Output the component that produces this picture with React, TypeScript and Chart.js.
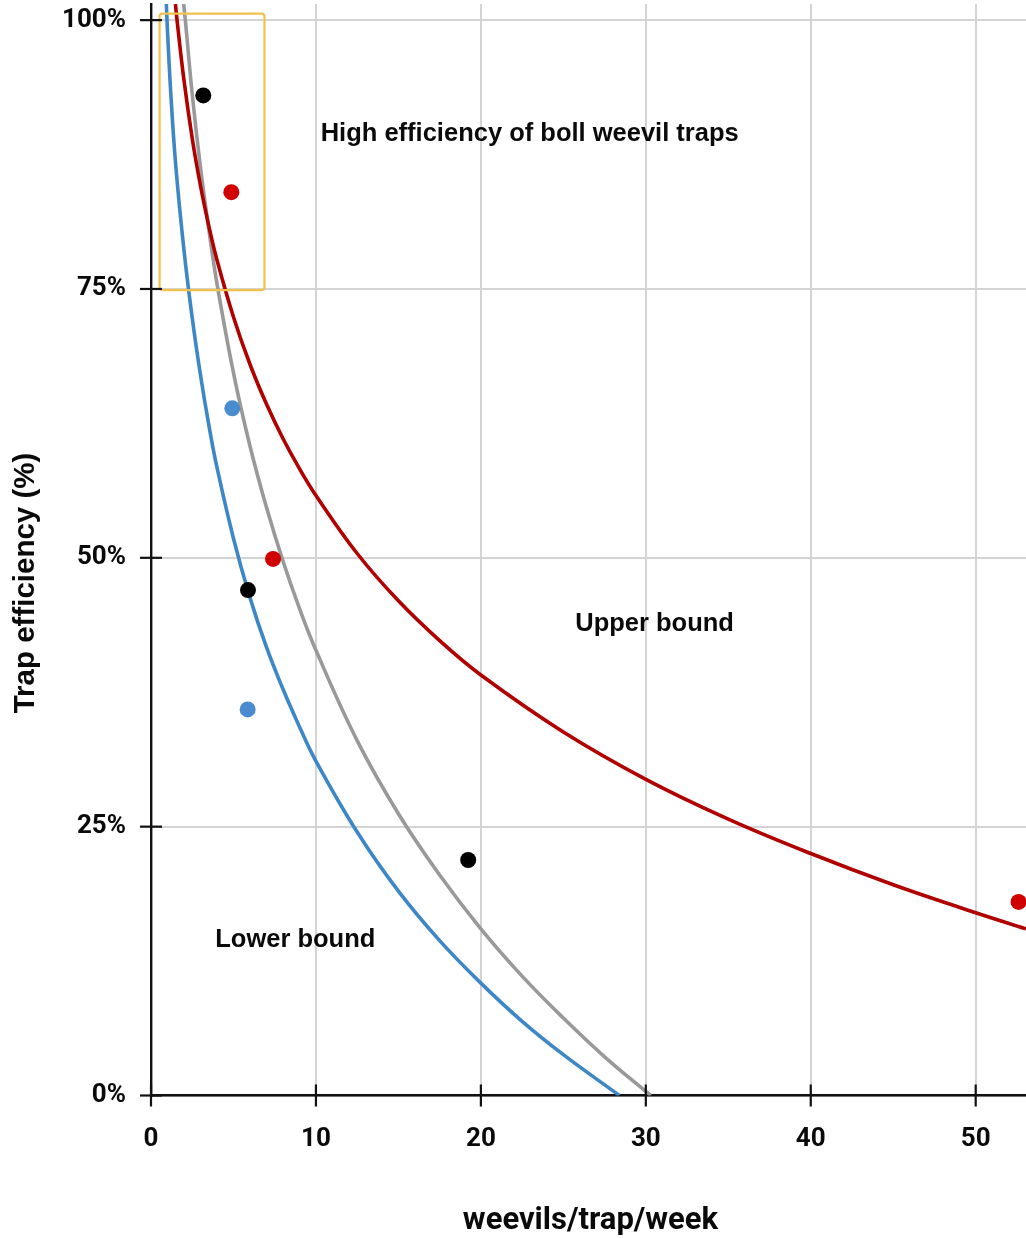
import React, { useEffect, useRef } from 'react';
import { Chart, registerables } from 'chart.js';

Chart.register(...registerables);

// Axis ranges and ticks
const xMin = 0;
const xMax = 53.05;
const yMin = 0;
const yMax = 101.5;
const xTicks = [0, 10, 20, 30, 40, 50];
const yTicks = [0, 25, 50, 75, 100];

// Curves
const lowerX = [0.93, 1, 1.2, 1.5, 2, 2.5, 3, 3.5, 4, 5, 6, 7, 8, 9, 10, 12.5, 15, 17.5, 20, 22.5, 25, 28.4];
const lowerY = [101.5, 99, 93.2, 86.5, 78.6, 72.3, 67, 62.4, 58.4, 51.8, 46.3, 41.7, 37.8, 34.3, 31.1, 24.5, 19.0, 14.4, 10.45, 6.9, 3.8, 0];

const midX = [1.96, 2.1, 2.5, 3, 3.5, 4, 5, 6, 7, 8, 9, 10, 12.5, 15, 17.5, 20, 22.5, 25, 27.5, 30.3];
const midY = [101.8, 99.7, 93.1, 86.3, 80.6, 75.5, 67.2, 60.4, 54.7, 49.7, 45.3, 41.4, 33.0, 26.2, 20.5, 15.5, 11.1, 7.2, 3.6, 0];

const upperX = [1.48, 1.6, 2, 2.5, 3, 3.5, 4, 5, 6, 7, 8, 9, 10, 12.5, 15, 17.5, 20, 25, 30, 35, 40, 45, 50, 53.05];
const upperY = [101.5, 99.7, 94.4, 89.0, 84.6, 80.9, 77.7, 72.4, 68.0, 64.3, 61.1, 58.3, 55.8, 50.4, 46.0, 42.3, 39.1, 33.8, 29.4, 25.7, 22.5, 19.6, 17.0, 15.5];

// Observed points
const blackX = [3.17, 5.88, 19.23];
const blackY = [93.0, 47.0, 21.9];
const redX = [4.87, 7.4, 52.6];
const redY = [84.0, 49.9, 18.0];
const blueX = [4.93, 5.86];
const blueY = [63.9, 35.9];

// Highlight box (data coords): x range, y range
const boxX = [0.52, 6.88];
const boxY = [74.9, 100.6];

// Annotations
const noteTexts = ['High efficiency of boll weevil traps', 'Upper bound', 'Lower bound'];
const noteX = [22.96, 30.53, 8.75];
const noteY = [89.44, 43.86, 14.47];

const xTitle = 'weevils/trap/week';
const yTitle = 'Trap efficiency (%)';

const toXY = (xs: number[], ys: number[]) => xs.map((x, i) => ({ x, y: ys[i] }));

const zeroPadding = (s: any) => {
  s.paddingTop = 0;
  s.paddingBottom = 0;
  s.paddingLeft = 0;
  s.paddingRight = 0;
};

const extrasPlugin = {
  id: 'extras',
  afterDatasetsDraw(chart: any) {
    const { ctx, scales } = chart;
    const xs = scales.x;
    const ys = scales.y;
    // highlight box
    const x0 = xs.getPixelForValue(boxX[0]);
    const x1 = xs.getPixelForValue(boxX[1]);
    const y0 = ys.getPixelForValue(boxY[1]);
    const y1 = ys.getPixelForValue(boxY[0]);
    ctx.save();
    ctx.strokeStyle = '#f1c24b';
    ctx.lineWidth = 2.2;
    ctx.beginPath();
    if (ctx.roundRect) ctx.roundRect(x0, y0, x1 - x0, y1 - y0, 3);
    else ctx.rect(x0, y0, x1 - x0, y1 - y0);
    ctx.stroke();
    ctx.restore();

    // annotations
    ctx.save();
    ctx.fillStyle = '#0a0a0a';
    ctx.font = 'bold 25.5px "Liberation Sans", Arial, sans-serif';
    ctx.textAlign = 'center';
    ctx.textBaseline = 'middle';
    noteTexts.forEach((t, i) => {
      ctx.fillText(t, xs.getPixelForValue(noteX[i]), ys.getPixelForValue(noteY[i]));
    });
    ctx.restore();
  },
  afterDraw(chart: any) {
    const { ctx, scales, chartArea } = chart;
    const xs = scales.x;
    const ys = scales.y;
    ctx.save();
    ctx.strokeStyle = '#111';
    ctx.lineWidth = 2.2;
    const tl = 11;
    xTicks.forEach((v) => {
      const px = xs.getPixelForValue(v);
      ctx.beginPath();
      ctx.moveTo(px, chartArea.bottom - tl);
      ctx.lineTo(px, chartArea.bottom + tl);
      ctx.stroke();
    });
    yTicks.forEach((v) => {
      const py = ys.getPixelForValue(v);
      ctx.beginPath();
      ctx.moveTo(chartArea.left - tl, py);
      ctx.lineTo(chartArea.left + tl, py);
      ctx.stroke();
    });
    ctx.restore();

    // axis titles
    ctx.save();
    ctx.fillStyle = '#0a0a0a';
    ctx.textAlign = 'center';
    ctx.textBaseline = 'middle';
    ctx.font = 'bold 31px Roboto, sans-serif';
    ctx.fillText(xTitle, (chartArea.left + chartArea.right) / 2 + 2, 1221);
    ctx.translate(26, 583);
    ctx.rotate(-Math.PI / 2);
    ctx.font = 'bold 29.5px "Liberation Sans", Arial, sans-serif';
    ctx.fillText(yTitle, 0, 0);
    ctx.restore();
  },
};

export default function App() {
  const ref = useRef<HTMLCanvasElement | null>(null);

  useEffect(() => {
    if (!ref.current) return;
    const lineDefaults = {
      type: 'line' as const,
      showLine: true,
      pointRadius: 0,
      pointHoverRadius: 0,
      borderWidth: 3.6,
      tension: 0.4,
      fill: false,
    };
    const pointDefaults = {
      type: 'scatter' as const,
      showLine: false,
      pointRadius: 8,
      pointBorderWidth: 0,
      borderWidth: 0,
    };
    const chart = new Chart(ref.current, {
      type: 'scatter',
      data: {
        datasets: [
          { ...pointDefaults, label: 'black', data: toXY(blackX, blackY), backgroundColor: '#000000', borderColor: '#000000' },
          { ...pointDefaults, label: 'red', data: toXY(redX, redY), backgroundColor: '#d00000', borderColor: '#d00000' },
          { ...pointDefaults, label: 'blue', data: toXY(blueX, blueY), backgroundColor: '#4a8ccf', borderColor: '#4a8ccf' },
          { ...lineDefaults, label: 'Upper bound', data: toXY(upperX, upperY), borderColor: '#b00000' },
          { ...lineDefaults, label: 'Mean', data: toXY(midX, midY), borderColor: '#999999' },
          { ...lineDefaults, label: 'Lower bound', data: toXY(lowerX, lowerY), borderColor: '#3d87c7' },
        ] as any,
      },
      options: {
        animation: false,
        responsive: false,
        devicePixelRatio: 1,
        layout: { autoPadding: false, padding: { top: 4, right: 0, left: 0, bottom: 0 } },
        plugins: { legend: { display: false }, tooltip: { enabled: false } },
        scales: {
          x: {
            type: 'linear',
            min: xMin,
            max: xMax,
            afterBuildTicks: (s: any) => {
              s.ticks = xTicks.map((v) => ({ value: v }));
            },
            afterFit: (s: any) => {
              s.height = 142.5;
              zeroPadding(s);
            },
            grid: { color: '#d4d4d4', lineWidth: 2, drawTicks: false },
            border: { color: '#111', width: 2.4 },
            ticks: {
              padding: 28,
              color: '#0a0a0a',
              autoSkip: false,
              maxRotation: 0,
              font: { family: 'Roboto', weight: 'bold', size: 26 },
            },
          },
          y: {
            type: 'linear',
            min: yMin,
            max: yMax,
            afterBuildTicks: (s: any) => {
              s.ticks = yTicks.map((v) => ({ value: v }));
            },
            afterFit: (s: any) => {
              s.width = 151;
              zeroPadding(s);
            },
            grid: { color: '#d4d4d4', lineWidth: 2, drawTicks: false },
            border: { color: '#111', width: 2.4 },
            ticks: {
              padding: 25,
              color: '#0a0a0a',
              autoSkip: false,
              callback: (v: any) => v + '%',
              font: { family: 'Roboto', weight: 'bold', size: 26 },
            },
          },
        },
      },
      plugins: [extrasPlugin],
    });
    return () => chart.destroy();
  }, []);

  return (
    <div style={{ position: 'absolute', left: 0, top: 0, width: 1026, height: 1238, background: '#ffffff' }}>
      <canvas ref={ref} width={1026} height={1238} style={{ width: 1026, height: 1238, display: 'block' }} />
    </div>
  );
}
